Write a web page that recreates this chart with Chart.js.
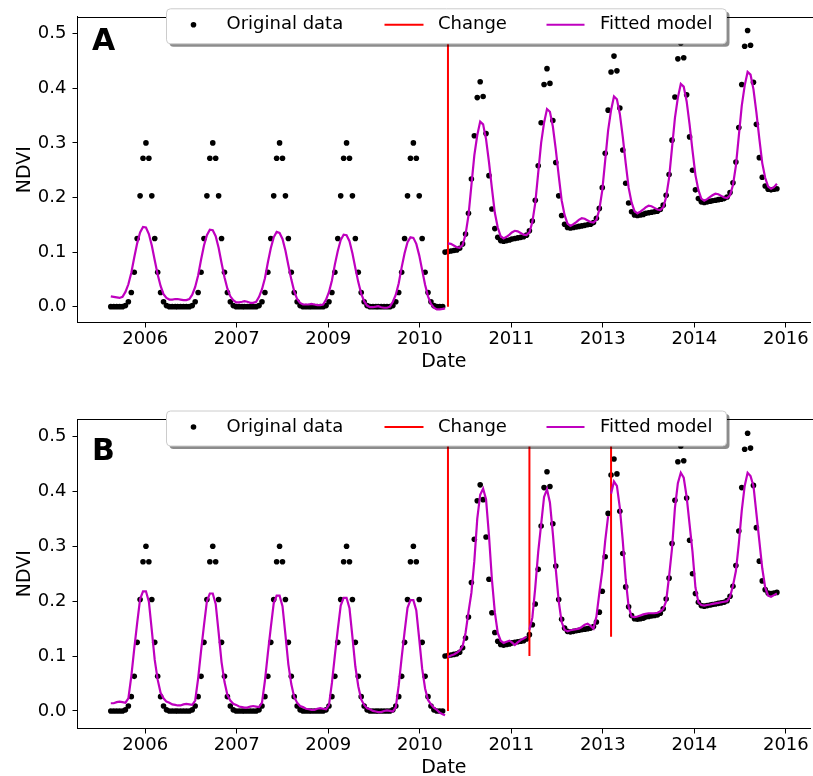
<!DOCTYPE html>
<html>
<head>
<meta charset="utf-8">
<script src="https://cdn.jsdelivr.net/npm/chart.js@4.4.1/dist/chart.umd.min.js"></script>
<style>
  html, body { margin: 0; padding: 0; background: #fff; }
  canvas { position: absolute; left: 0; }
  #chartA { top: 0; }
  #chartB { top: 388px; }
</style>
</head>
<body>
<canvas id="chartA" width="813" height="388"></canvas>
<canvas id="chartB" width="813" height="388"></canvas>
<script>
// 16-day composites, 23 per year
const years = [2006, 2007, 2008, 2009, 2010, 2011, 2012, 2013, 2014, 2015];
const compositeDays = [1, 17, 33, 49, 65, 81, 97, 113, 129, 145, 161, 177, 193, 209, 225, 241, 257, 273, 289, 305, 321, 337, 353];

// observed NDVI, one row per year
const ndvi = [
  0, 0, 0, 0, 0, 0.002, 0.009, 0.026, 0.063, 0.125, 0.203, 0.272, 0.300, 0.272, 0.203, 0.125, 0.063, 0.026, 0.009, 0.002, 0, 0, 0,
  0, 0, 0, 0, 0, 0.002, 0.009, 0.026, 0.063, 0.125, 0.203, 0.272, 0.300, 0.272, 0.203, 0.125, 0.063, 0.026, 0.009, 0.002, 0, 0, 0,
  0, 0, 0, 0, 0, 0.002, 0.009, 0.026, 0.063, 0.125, 0.203, 0.272, 0.300, 0.272, 0.203, 0.125, 0.063, 0.026, 0.009, 0.002, 0, 0, 0,
  0, 0, 0, 0, 0, 0.002, 0.009, 0.026, 0.063, 0.125, 0.203, 0.272, 0.300, 0.272, 0.203, 0.125, 0.063, 0.026, 0.009, 0.002, 0, 0, 0,
  0, 0, 0, 0, 0, 0.002, 0.009, 0.026, 0.063, 0.125, 0.203, 0.272, 0.300, 0.272, 0.203, 0.125, 0.063, 0.026, 0.009, 0.002, 0, 0, 0,
  0.100, 0.101, 0.102, 0.103, 0.104, 0.107, 0.115, 0.133, 0.171, 0.234, 0.313, 0.383, 0.412, 0.385, 0.317, 0.240, 0.179, 0.143, 0.127, 0.121, 0.120, 0.121, 0.122,
  0.124, 0.125, 0.126, 0.127, 0.128, 0.131, 0.139, 0.157, 0.195, 0.258, 0.337, 0.407, 0.436, 0.409, 0.341, 0.264, 0.203, 0.167, 0.151, 0.145, 0.144, 0.145, 0.146,
  0.147, 0.148, 0.149, 0.150, 0.151, 0.154, 0.162, 0.180, 0.218, 0.281, 0.360, 0.430, 0.459, 0.432, 0.364, 0.287, 0.226, 0.190, 0.174, 0.168, 0.167, 0.168, 0.169,
  0.171, 0.172, 0.173, 0.174, 0.175, 0.178, 0.186, 0.204, 0.242, 0.305, 0.384, 0.454, 0.483, 0.456, 0.388, 0.311, 0.250, 0.214, 0.198, 0.192, 0.191, 0.192, 0.193,
  0.194, 0.195, 0.196, 0.197, 0.198, 0.201, 0.209, 0.227, 0.265, 0.328, 0.407, 0.477, 0.506, 0.479, 0.411, 0.334, 0.273, 0.237, 0.221, 0.215, 0.214, 0.215, 0.216
];

// fitted model, single break
const fitA = [
  0.019, 0.018, 0.017, 0.016, 0.018, 0.027, 0.041, 0.062, 0.090, 0.116, 0.136, 0.146, 0.145, 0.133, 0.112, 0.085, 0.059, 0.038, 0.023, 0.016, 0.013, 0.013, 0.014,
  0.014, 0.013, 0.012, 0.012, 0.014, 0.022, 0.036, 0.057, 0.086, 0.112, 0.131, 0.141, 0.140, 0.129, 0.108, 0.080, 0.054, 0.033, 0.019, 0.012, 0.008, 0.008, 0.009,
  0.010, 0.009, 0.007, 0.007, 0.009, 0.018, 0.032, 0.052, 0.081, 0.107, 0.127, 0.137, 0.135, 0.124, 0.103, 0.076, 0.050, 0.028, 0.014, 0.007, 0.004, 0.004, 0.004,
  0.005, 0.004, 0.003, 0.003, 0.004, 0.013, 0.027, 0.048, 0.077, 0.102, 0.122, 0.132, 0.131, 0.120, 0.098, 0.071, 0.045, 0.024, 0.010, 0.002, -0.001, -0.001, 0.000,
  0.001, -0.001, -0.002, -0.002, 0.000, 0.009, 0.022, 0.043, 0.072, 0.098, 0.118, 0.127, 0.126, 0.115, 0.094, 0.067, 0.040, 0.019, 0.005, -0.002, -0.005, -0.005, -0.004,
  -0.003, 0.116, 0.115, 0.112, 0.109, 0.108, 0.113, 0.132, 0.167, 0.222, 0.277, 0.314, 0.339, 0.334, 0.307, 0.265, 0.217, 0.172, 0.145, 0.129, 0.125, 0.128, 0.132,
  0.136, 0.139, 0.138, 0.135, 0.132, 0.131, 0.136, 0.155, 0.190, 0.245, 0.300, 0.337, 0.362, 0.357, 0.330, 0.288, 0.240, 0.195, 0.168, 0.152, 0.148, 0.151, 0.155,
  0.159, 0.162, 0.161, 0.158, 0.155, 0.154, 0.159, 0.178, 0.213, 0.268, 0.323, 0.360, 0.385, 0.380, 0.353, 0.311, 0.263, 0.218, 0.191, 0.175, 0.171, 0.174, 0.178,
  0.182, 0.185, 0.184, 0.181, 0.178, 0.177, 0.182, 0.201, 0.236, 0.291, 0.346, 0.383, 0.408, 0.403, 0.376, 0.334, 0.286, 0.241, 0.214, 0.198, 0.194, 0.197, 0.201,
  0.204, 0.207, 0.206, 0.203, 0.200, 0.199, 0.204, 0.223, 0.258, 0.313, 0.368, 0.405, 0.430, 0.425, 0.398, 0.356, 0.308, 0.263, 0.236, 0.220, 0.216, 0.219, 0.225
];

// fitted model, three breaks
const fitB = [
  0.014, 0.014, 0.016, 0.017, 0.016, 0.015, 0.023, 0.063, 0.113, 0.160, 0.204, 0.218, 0.218, 0.199, 0.147, 0.093, 0.057, 0.033, 0.023, 0.017, 0.015, 0.012, 0.011,
  0.010, 0.010, 0.012, 0.013, 0.012, 0.011, 0.019, 0.059, 0.109, 0.156, 0.200, 0.214, 0.214, 0.195, 0.143, 0.089, 0.053, 0.029, 0.019, 0.013, 0.011, 0.008, 0.007,
  0.006, 0.006, 0.008, 0.009, 0.008, 0.007, 0.015, 0.055, 0.105, 0.152, 0.196, 0.210, 0.210, 0.191, 0.139, 0.085, 0.049, 0.025, 0.015, 0.009, 0.007, 0.004, 0.003,
  0.002, 0.002, 0.004, 0.005, 0.004, 0.003, 0.011, 0.051, 0.101, 0.148, 0.192, 0.206, 0.206, 0.187, 0.135, 0.081, 0.045, 0.021, 0.011, 0.005, 0.003, 0.000, -0.001,
  -0.002, -0.002, 0.000, 0.001, 0.000, -0.001, 0.007, 0.047, 0.097, 0.144, 0.188, 0.202, 0.202, 0.183, 0.131, 0.077, 0.041, 0.020, 0.012, 0.006, 0.002, -0.003, -0.006,
  -0.008, 0.098, 0.101, 0.103, 0.106, 0.110, 0.118, 0.142, 0.180, 0.215, 0.273, 0.350, 0.394, 0.405, 0.386, 0.320, 0.240, 0.180, 0.142, 0.128, 0.124, 0.126, 0.128,
  0.125, 0.120, 0.125, 0.129, 0.132, 0.135, 0.148, 0.170, 0.225, 0.290, 0.340, 0.390, 0.404, 0.380, 0.323, 0.258, 0.200, 0.162, 0.148, 0.145, 0.147, 0.148, 0.149,
  0.150, 0.153, 0.157, 0.159, 0.155, 0.150, 0.172, 0.215, 0.255, 0.310, 0.355, 0.396, 0.418, 0.410, 0.370, 0.310, 0.240, 0.190, 0.172, 0.171, 0.172, 0.174, 0.176,
  0.177, 0.178, 0.178, 0.178, 0.179, 0.181, 0.186, 0.200, 0.245, 0.296, 0.370, 0.415, 0.434, 0.425, 0.390, 0.340, 0.290, 0.225, 0.198, 0.193, 0.192, 0.193, 0.194,
  0.195, 0.196, 0.197, 0.198, 0.199, 0.200, 0.208, 0.228, 0.255, 0.305, 0.365, 0.410, 0.434, 0.428, 0.410, 0.360, 0.310, 0.260, 0.225, 0.210, 0.208, 0.211, 0.214
];

// detected breaks and the NDVI level each marker starts from
const changesA = ['2011-01-17'];
const changeLowA = [0.0];
const changesB = ['2011-01-17', '2012-04-06', '2013-06-26'];
const changeLowB = [0.0, 0.10, 0.135];
const changeTop = 0.52;

const ndviTicks = [0, 0.1, 0.2, 0.3, 0.4, 0.5];
const dateTickLabels = ['2006', '2007', '2009', '2010', '2011', '2013', '2014', '2016'];
const dateTickStart = '2006-07-08';
const dateTickStep = 500; // days

const FONT = 'DejaVu Sans';
Chart.defaults.font.family = FONT;
Chart.defaults.color = '#000';

const origin = Date.UTC(2006, 0, 1);
const DAY = 86400000;
const dayNumber = s => (Date.parse(s) - origin) / DAY;
const dates = years.flatMap(y => compositeDays.map(d => (Date.UTC(y, 0, d) - origin) / DAY));
const span = dates[dates.length - 1] - dates[0];
const xMin = dates[0] - 0.05 * span;
const xMax = dates[dates.length - 1] + 0.05 * span;

// split the fitted curve at each break so the segments are not joined
function fitSegments(fit, changes) {
  const bounds = changes.map(dayNumber);
  const segs = bounds.map(() => []).concat([[]]);
  dates.forEach((x, i) => {
    const k = bounds.filter(b => x >= b).length;
    segs[k].push({ x, y: fit[i] });
  });
  return segs;
}

function buildDatasets(fit, changes, lows) {
  const sets = [{
    label: 'Original data',
    data: dates.map((x, i) => ({ x, y: ndvi[i] })),
    showLine: false,
    pointRadius: 2.8,
    pointHoverRadius: 2.8,
    pointBorderWidth: 0,
    backgroundColor: '#000',
    order: 3
  }];
  changes.forEach((c, i) => {
    sets.push({
      label: 'Change',
      data: [{ x: dayNumber(c), y: lows[i] }, { x: dayNumber(c), y: changeTop }],
      showLine: true,
      borderColor: '#ff0000',
      borderWidth: 2,
      pointRadius: 0,
      order: 2
    });
  });
  fitSegments(fit, changes).forEach(seg => {
    sets.push({
      label: 'Fitted model',
      data: seg,
      showLine: true,
      borderColor: '#bf00bf',
      borderWidth: 2.2,
      pointRadius: 0,
      tension: 0,
      order: 1
    });
  });
  return sets;
}

// top spine and panel letter
const frame = {
  id: 'frame',
  afterDatasetsDraw(chart, args, opts) {
    const { ctx, chartArea: a } = chart;
    ctx.save();
    ctx.strokeStyle = '#000';
    ctx.lineWidth = 1;
    const y = Math.round(a.top) + 0.5;
    ctx.beginPath();
    ctx.moveTo(a.left, y);
    ctx.lineTo(chart.width, y);
    ctx.stroke();
    ctx.font = 'bold 30px ' + FONT;
    ctx.fillStyle = '#000';
    ctx.textBaseline = 'alphabetic';
    ctx.fillText(opts.letter, a.left + 14.5, a.top + opts.letterDrop);
    ctx.restore();
  }
};

// framed legend with drop shadow, overlapping the top edge of the axes
const legendBox = {
  id: 'legendBox',
  afterDraw(chart) {
    const { ctx, chartArea: a } = chart;
    const x0 = a.left + 89, y0 = a.top - 8, w = 560, h = 35, r = 4;
    const box = (x, y) => {
      ctx.beginPath();
      ctx.roundRect(x, y, w, h, r);
    };
    ctx.save();
    box(x0 + 3, y0 + 3);
    ctx.fillStyle = 'rgba(0,0,0,0.45)';
    ctx.fill();
    box(x0, y0);
    ctx.fillStyle = '#fff';
    ctx.fill();
    ctx.strokeStyle = '#cccccc';
    ctx.lineWidth = 1;
    ctx.stroke();

    const cy = y0 + 16;
    ctx.font = '18px ' + FONT;
    ctx.textBaseline = 'middle';
    ctx.fillStyle = '#000';
    ctx.beginPath();
    ctx.arc(x0 + 27, cy, 2.8, 0, Math.PI * 2);
    ctx.fill();
    ctx.fillText('Original data', x0 + 60, cy);

    ctx.lineWidth = 2;
    ctx.strokeStyle = '#ff0000';
    ctx.beginPath();
    ctx.moveTo(x0 + 218, cy);
    ctx.lineTo(x0 + 257, cy);
    ctx.stroke();
    ctx.fillText('Change', x0 + 271.5, cy);

    ctx.strokeStyle = '#bf00bf';
    ctx.beginPath();
    ctx.moveTo(x0 + 380, cy);
    ctx.lineTo(x0 + 418, cy);
    ctx.stroke();
    ctx.fillText('Fitted model', x0 + 433.5, cy);
    ctx.restore();
  }
};

function makeChart(id, fit, changes, lows, yMin, yMax, padTop, padBottom, letter, letterDrop) {
  const tickLine = { drawOnChartArea: false, drawTicks: true, tickLength: 5, tickColor: '#000', tickWidth: 1 };
  return new Chart(document.getElementById(id), {
    type: 'scatter',
    data: { datasets: buildDatasets(fit, changes, lows) },
    options: {
      responsive: false,
      animation: false,
      events: [],
      layout: { padding: { left: 0, right: 1, top: padTop, bottom: padBottom } },
      plugins: {
        legend: { display: false },
        tooltip: { enabled: false },
        frame: { letter, letterDrop }
      },
      scales: {
        x: {
          type: 'linear',
          min: xMin,
          max: xMax,
          afterBuildTicks: s => {
            s.ticks = dateTickLabels.map((_, i) => ({ value: dayNumber(dateTickStart) + i * dateTickStep }));
          },
          afterFit: s => { s.height = 47; },
          ticks: {
            callback: (v, i) => dateTickLabels[i],
            autoSkip: false,
            maxRotation: 0,
            padding: 1.5,
            font: { size: 18, lineHeight: 1.2 }
          },
          grid: tickLine,
          border: { display: true, color: '#000', width: 1 },
          title: { display: true, text: 'Date', font: { size: 19, lineHeight: 1 }, padding: { top: 0, bottom: -2 } }
        },
        y: {
          min: yMin,
          max: yMax,
          afterBuildTicks: s => { s.ticks = ndviTicks.map(v => ({ value: v })); },
          afterFit: s => { s.width = 77.5; },
          ticks: {
            callback: v => v.toFixed(1),
            padding: 6,
            font: { size: 18 }
          },
          grid: tickLine,
          border: { display: true, color: '#000', width: 1 },
          title: { display: true, text: 'NDVI', font: { size: 19, lineHeight: 1 }, padding: { top: 15.5, bottom: 0 } }
        }
      }
    },
    plugins: [frame, legendBox]
  });
}

makeChart('chartA', fitA, changesA, changeLowA, -0.029, 0.531, 13, 18.5, 'A', 33.5);
makeChart('chartB', fitB, changesB, changeLowB, -0.032, 0.532, 31, 0.5, 'B', 41);
</script>
</body>
</html>
